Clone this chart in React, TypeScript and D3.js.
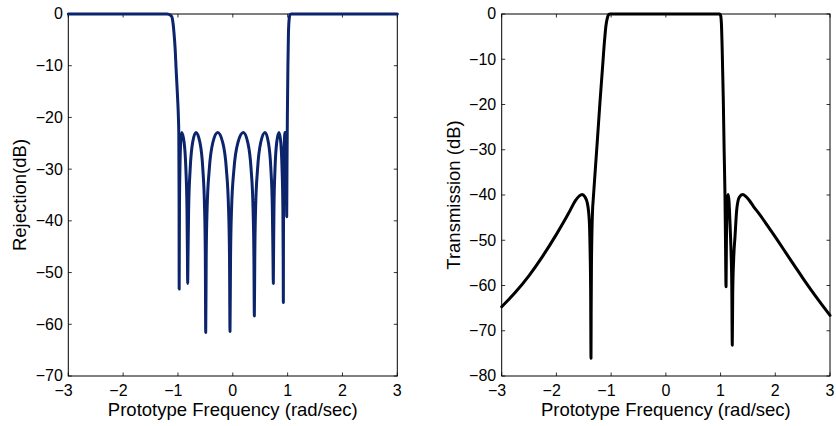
import React from "react";
import * as d3 from "d3";

// ---------- data ----------
const xTickValues = [-3, -2, -1, 0, 1, 2, 3];
const leftYTicks = [-70, -60, -50, -40, -30, -20, -10, 0];
const rightYTicks = [-80, -70, -60, -50, -40, -30, -20, -10, 0];

const rejectionFreq = [
  -3, -1.2, -1.16, -1.114, -1.09, -1.072, -1.05, -1.036, -1.02, -1.005, -0.992, -0.985, -0.98,
  -0.978, -0.976, -0.9725, -0.964, -0.95, -0.932, -0.888, -0.856, -0.836, -0.827,
  -0.823, -0.817, -0.805, -0.777, -0.732, -0.671, -0.6, -0.547, -0.515, -0.501,
  -0.494, -0.485, -0.468, -0.428, -0.363, -0.275, -0.185, -0.118, -0.078, -0.06,
  -0.051, -0.041, -0.022, 0.022, 0.095, 0.192, 0.272, 0.333, 0.369, 0.385,
  0.393, 0.401, 0.416, 0.452, 0.51, 0.588, 0.648, 0.694, 0.721, 0.733,
  0.739, 0.743, 0.751, 0.77, 0.801, 0.843, 0.875, 0.898, 0.913, 0.919,
  0.922, 0.9232, 0.9256, 0.931, 0.94, 0.952, 0.966, 0.975, 0.98,
  0.983, 0.988, 0.995, 1.005, 1.015, 1.028, 1.045, 1.07, 3,
];
const rejectionDb = [
  0, 0, -0.1, -0.5, -1.8, -3.7, -7, -10.2, -13.5, -16.6, -20, -23, -35,
  -53.2, -47, -37.5, -29.9, -24.8, -22.9, -24.8, -29.9, -37.5, -47,
  -52.1, -47, -37.5, -29.9, -24.8, -22.9, -24.8, -29.9, -37.5, -47,
  -61.6, -47, -37.5, -29.9, -24.8, -22.9, -24.8, -29.9, -37.5, -47,
  -61.4, -47, -37.5, -29.9, -24.8, -22.9, -24.8, -29.9, -37.5, -47,
  -58.4, -47, -37.5, -29.9, -24.8, -22.9, -24.8, -29.9, -37.5, -47,
  -52.1, -47, -37.5, -29.9, -24.8, -22.9, -24.8, -29.9, -37.5, -47,
  -55.8, -47, -37.5, -29.9, -24.8, -22.9, -25, -30, -35,
  -39.2, -30, -20, -10, -3.7, -1, -0.1, 0, 0,
];

const transmissionFreq = [
  -3, -2.75, -2.5, -2.25, -2.0, -1.85, -1.75, -1.65, -1.58, -1.53, -1.48, -1.435, -1.4, -1.385, -1.374,
  -1.368, -1.365, -1.36, -1.352, -1.34, -1.326, -1.29, -1.25, -1.204, -1.16, -1.12, -1.095, -1.07, -1.045, -1.02,
  0.98, 1.0, 1.015, 1.03, 1.05, 1.065, 1.08, 1.09,
  1.1, 1.107, 1.115, 1.128, 1.14, 1.155, 1.17, 1.19, 1.205,
  1.214, 1.222, 1.24, 1.264, 1.295, 1.342, 1.404, 1.46, 1.52, 1.6, 1.72, 1.87, 2.03, 2.2, 2.35, 2.5, 2.65, 2.8, 3,
];
const transmissionDb = [
  -64.7, -61.5, -57.8, -53.5, -48.7, -45.6, -43.4, -41.2, -40.2, -39.9, -40.4, -41.8, -45.5, -52, -62,
  -76.1, -66, -56, -49, -43.5, -40.8, -34.5, -27.6, -19.5, -12.3, -5.8, -2.6, -0.9, -0.15, 0,
  0, -0.3, -2, -8, -19, -30, -39.6, -50,
  -60.3, -50, -44, -40.6, -39.9, -41.5, -45.5, -52, -60,
  -73.2, -62, -54, -49.2, -43.3, -40.5, -39.9, -40.3, -41.1, -42.5, -44.4, -47.0, -49.8, -52.9, -55.6, -58.3, -60.9, -63.4, -66.6,
];

const FONT = "'Liberation Sans', Arial, Helvetica, sans-serif";

type PanelProps = {
  left: number;
  right: number;
  top: number;
  bottom: number;
  xs: number[];
  ys: number[];
  yTicks: number[];
  yDomain: [number, number];
  color: string;
  yLabel: string;
  yLabelX: number;
};

const fmt = (v: number) => (v < 0 ? "\u2212" + Math.abs(v) : String(v));

function Panel(p: PanelProps) {
  const x = d3.scaleLinear().domain([-3, 3]).range([p.left, p.right]);
  const y = d3.scaleLinear().domain(p.yDomain).range([p.bottom, p.top]);
  const pts = p.xs.map((v, i) => [v, p.ys[i]] as [number, number]);
  const line = d3
    .line<[number, number]>()
    .x((d) => x(d[0]))
    .y((d) => y(d[1]))
    .curve(d3.curveMonotoneX);
  const tl = 3.5;
  const digitHalf = (0.556 * 16) / 2;
  return (
    <g>
      <rect
        x={p.left}
        y={p.top}
        width={p.right - p.left}
        height={p.bottom - p.top}
        fill="none"
        stroke="#000"
        strokeWidth={1}
      />
      {xTickValues.map((t) => (
        <g key={"xt" + t}>
          <line x1={x(t)} x2={x(t)} y1={p.bottom} y2={p.bottom - tl} stroke="#000" strokeWidth={0.8} />
          <line x1={x(t)} x2={x(t)} y1={p.top} y2={p.top + tl} stroke="#000" strokeWidth={0.8} />
          <text
            x={x(t) + digitHalf}
            y={396}
            textAnchor="end"
            fontSize={16}
            fontFamily={FONT}
            fill="#000"
          >
            {fmt(t)}
          </text>
        </g>
      ))}
      {p.yTicks.map((t) => (
        <g key={"yt" + t}>
          <line x1={p.left} x2={p.left + tl} y1={y(t)} y2={y(t)} stroke="#000" strokeWidth={0.8} />
          <line x1={p.right} x2={p.right - tl} y1={y(t)} y2={y(t)} stroke="#000" strokeWidth={0.8} />
          <text
            x={p.left - 5.5}
            y={y(t)}
            dy="0.34em"
            textAnchor="end"
            fontSize={16}
            fontFamily={FONT}
            fill="#000"
          >
            {fmt(t)}
          </text>
        </g>
      ))}
      <path
        d={line(pts) || ""}
        fill="none"
        stroke={p.color}
        strokeWidth={3}
        strokeLinejoin="round"
        strokeLinecap="round"
      />
      <text
        x={(p.left + p.right) / 2}
        y={416}
        textAnchor="middle"
        fontSize={18.5}
        fontFamily={FONT}
        fill="#000"
      >
        Prototype Frequency (rad/sec)
      </text>
      <text
        transform={`translate(${p.yLabelX},${(p.top + p.bottom) / 2}) rotate(-90)`}
        textAnchor="middle"
        fontSize={18.5}
        fontFamily={FONT}
        fill="#000"
      >
        {p.yLabel}
      </text>
    </g>
  );
}

export default function App() {
  return (
    <svg
      width={836}
      height={426}
      viewBox="0 0 836 426"
      style={{ position: "absolute", left: 0, top: 0, background: "#fff" }}
    >
      <rect x={0} y={0} width={836} height={426} fill="#fff" />
      <Panel
        left={68.3}
        right={397.3}
        top={14}
        bottom={376}
        xs={rejectionFreq}
        ys={rejectionDb}
        yTicks={leftYTicks}
        yDomain={[-70, 0]}
        color="#0c246b"
        yLabel="Rejection(dB)"
        yLabelX={26}
      />
      <Panel
        left={501.7}
        right={830}
        top={14}
        bottom={376}
        xs={transmissionFreq}
        ys={transmissionDb}
        yTicks={rightYTicks}
        yDomain={[-80, 0]}
        color="#000"
        yLabel="Transmission (dB)"
        yLabelX={459.5}
      />
    </svg>
  );
}
